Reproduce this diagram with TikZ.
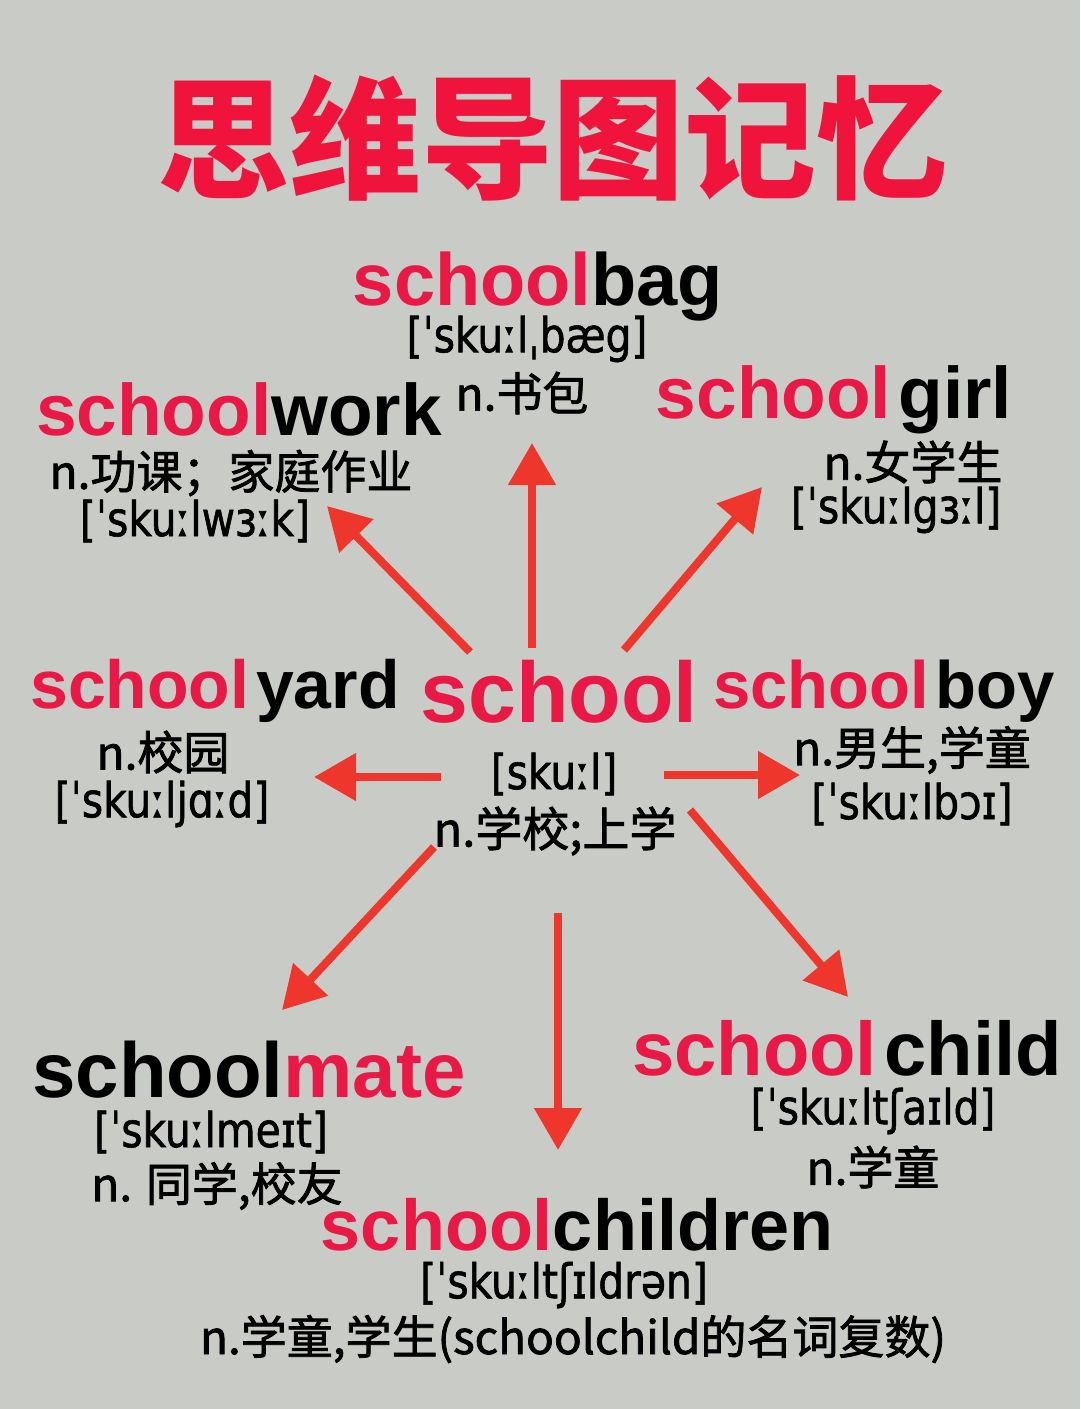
\documentclass[tikz,border=0pt]{standalone}
\usepackage{fontspec}
\setmainfont{Liberation Sans}
\newfontfamily\cjk{Noto Sans CJK SC}
\newfontfamily\cjkmid[FakeBold=1.6]{Noto Sans CJK SC}
\newfontfamily\ipafont[FakeStretch=0.85, FakeBold=1.2]{DejaVu Sans}
\usetikzlibrary{arrows.meta}
\definecolor{bggray}{RGB}{201,203,198}
\definecolor{schred}{RGB}{233,24,68}
\definecolor{titlered}{RGB}{240,20,60}
\definecolor{arrowred}{RGB}{239,54,44}
\tikzset{
  word/.style={font=\bfseries\fontsize{#1}{#1}\selectfont, anchor=base, inner sep=0pt},
  ipa/.style={font=\ipafont\fontsize{#1}{#1}\selectfont, inner sep=0pt},
  mean/.style={font=\cjkmid\fontsize{#1}{#1}\selectfont, inner sep=0pt},
  branch/.style={line width=8pt, color=arrowred, -{Triangle[length=42pt, width=46pt]}}
}
\def\sch{{\color{schred}school}}

\begin{document}
\begin{tikzpicture}[x=1pt, y=-1pt]
			%%%%% START %%%%%
			
			\fill[bggray] (0, 0) rectangle (1080, 1409);
			\useasboundingbox (0, 0) rectangle (1080, 1409);
			
			\node[text=titlered, font=\cjk\bfseries\fontsize{132}{132}\selectfont] (title) at (553, 138) {思维导图记忆};
			
			\node[word=86, text=schred] (school) at (559, 722) {school};
			\node[ipa=48] (schoolipa) at (554, 774) {[sku\char"02D0 l]};
			\node[mean=47] (schoolmean) at (555, 831) {n.学校;上学};
			
			\node[word=74] (bag) at (538, 305) {\sch bag};
			\node[ipa=48] (bagipa) at (527, 339) {[\char"02C8 sku\char"02D0 l\char"02CC b\char"00E6 g]};
			\node[mean=46] (bagmean) at (522, 393) {n.书包};
			
			\node[word=73] (work) at (239, 435) {\sch work};
			\node[mean=46] (workmean) at (231, 473) {n.功课；家庭作业};
			\node[ipa=48] (workipa) at (195, 521) {[\char"02C8 sku\char"02D0 lw\char"025C\char"02D0 k]};
			
			\node[word=73] (girl) at (834, 418) {\sch\hspace{0.1em}girl};
			\node[mean=46] (girlmean) at (913, 462) {n.女学生};
			\node[ipa=48] (girlipa) at (896, 510) {[\char"02C8 sku\char"02D0 lg\char"025C\char"02D0 l]};
			
			\node[word=68] (yard) at (215, 708) {\sch\hspace{0.1em}yard};
			\node[mean=46] (yardmean) at (163, 752) {n.校园};
			\node[ipa=48] (yardipa) at (162, 804) {[\char"02C8 sku\char"02D0 lj\char"0251\char"02D0 d]};
			
			\node[word=67] (boy) at (884, 708) {\sch\hspace{0.1em}boy};
			\node[mean=46] (boymean) at (912, 750) {n.男生,学童};
			\node[ipa=48] (boyipa) at (912, 804) {[\char"02C8 sku\char"02D0 lb\char"0254\char"026A]};
			
			\node[word=78] (mate) at (249, 1097) {school{\color{schred}mate}};
			\node[ipa=48] (mateipa) at (211, 1132) {[\char"02C8 sku\char"02D0 lme\char"026A t]};
			\node[mean=46] (matemean) at (217, 1186) {n. 同学,校友};
			
			\node[word=76] (child) at (847, 1075) {\sch\hspace{0.1em}child};
			\node[ipa=48] (childipa) at (873, 1111) {[\char"02C8 sku\char"02D0 lt\char"0283 a\char"026A ld]};
			\node[mean=46] (childmean) at (873, 1167) {n.学童};
			
			\node[word=72] (children) at (577, 1250) {\sch children};
			\node[ipa=48] (childrenipa) at (564, 1285) {[\char"02C8 sku\char"02D0 lt\char"0283\char"026A ldr\char"0259 n]};
			\node[mean=46] (childrenmean) at (573, 1339) {n.学童,学生(schoolchild的名词复数)};
			
			% arrows out of the centre
			\coordinate (bagtail) at (532, 648);
			\coordinate (bagtip) at (532, 443);
			\coordinate (worktail) at (470, 652);
			\coordinate (worktip) at (327, 506);
			\coordinate (girltail) at (624, 650);
			\coordinate (girltip) at (762, 487);
			\coordinate (yardtail) at (441, 777);
			\coordinate (yardtip) at (314, 777);
			\coordinate (boytail) at (664, 775);
			\coordinate (boytip) at (800, 775);
			\coordinate (matetail) at (434, 847);
			\coordinate (matetip) at (282, 1010);
			\coordinate (childrentail) at (558, 913);
			\coordinate (childrentip) at (558, 1150);
			\coordinate (childtail) at (690, 810);
			\coordinate (childtip) at (848, 997);
			
			\draw[branch] (bagtail) -- (bagtip);
			\draw[branch] (worktail) -- (worktip);
			\draw[branch] (girltail) -- (girltip);
			\draw[branch] (yardtail) -- (yardtip);
			\draw[branch] (boytail) -- (boytip);
			\draw[branch] (matetail) -- (matetip);
			\draw[branch] (childrentail) -- (childrentip);
			\draw[branch] (childtail) -- (childtip);
			
			%%%%% END %%%%%
		\end{tikzpicture}
\end{document}
